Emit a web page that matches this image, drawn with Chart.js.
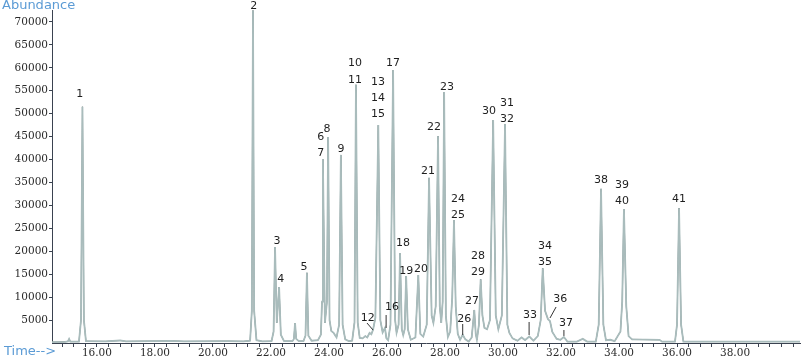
<!DOCTYPE html>
<html>
<head>
<meta charset="utf-8">
<title>Chromatogram</title>
<script src="https://cdn.jsdelivr.net/npm/chart.js@4.4.1/dist/chart.umd.min.js"></script>
<style>
  html, body { margin: 0; padding: 0; background: #fff; }
  #chrom { display: block; }
</style>
</head>
<body>
<canvas id="chrom" width="803" height="358"></canvas>
<script>
// retention time (min) and abundance of the trace
const traceTime = [
  14.45, 14.90, 15.00, 15.04, 15.08, 15.38, 15.45, 15.50, 15.55, 15.62,
  16.30, 16.80, 17.00, 18.60, 19.00, 20.50, 21.05,
  21.28, 21.34, 21.38, 21.42, 21.50, 21.70,
  22.02, 22.09, 22.14, 22.20, 22.28, 22.34, 22.45,
  22.74, 22.79, 22.83, 22.87, 22.96,
  23.12, 23.19, 23.24, 23.29, 23.40,
  23.62, 23.72, 23.76, 23.79, 23.86, 23.93, 23.97, 24.02, 24.08, 24.16,
  24.26, 24.35, 24.41, 24.47, 24.56, 24.68,
  24.80, 24.88, 24.93, 24.99, 25.06,
  25.16, 25.25, 25.32, 25.40, 25.46, 25.52, 25.60, 25.70, 25.77,
  25.85, 25.93, 25.98, 26.04, 26.12, 26.21, 26.28, 26.33,
  26.40, 26.45, 26.51, 26.56, 26.61, 26.66, 26.72, 26.82,
  26.98, 27.08, 27.15, 27.25,
  27.37, 27.45, 27.54, 27.60, 27.68, 27.76, 27.82, 27.87, 27.92, 27.97, 28.03, 28.10,
  28.18, 28.25, 28.31, 28.37, 28.44, 28.52, 28.61, 28.70, 28.82,
  28.92, 29.01, 29.06, 29.10, 29.17, 29.23, 29.29, 29.36, 29.45,
  29.55, 29.66, 29.75, 29.84, 29.96, 30.07, 30.15, 30.22, 30.33,
  30.50, 30.64, 30.76, 30.91, 31.05,
  31.20, 31.30, 31.37, 31.45, 31.55, 31.62, 31.70, 31.85, 31.98, 32.10, 32.22,
  32.55, 32.75, 32.90,
  33.20, 33.30, 33.38, 33.46, 33.55, 33.70, 33.85,
  34.05, 34.11, 34.17, 34.25, 34.33, 34.45, 35.40, 35.48,
  35.93, 36.00, 36.07, 36.14, 36.22, 38.50, 40.24
];
const traceAbund = [
  200, 250, 350, 900, 300, 300, 5000, 51500, 5000, 400,
  350, 550, 350, 450, 350, 400, 350,
  500, 7000, 72500, 7000, 600, 350,
  400, 2500, 20900, 4400, 12200, 1800, 400,
  400, 900, 4350, 900, 400,
  400, 1600, 15300, 1600, 500,
  600, 1800, 9000, 40100, 4400, 9000, 44900, 5000, 2600, 2200,
  1200, 4000, 41000, 4000, 800, 400,
  500, 4500, 56300, 4500, 1100,
  1000, 1500, 1200, 2200, 1900, 2900, 5500, 47500, 5000,
  2300, 3300, 1000, 600, 4000, 59500, 5000, 2200,
  4000, 19600, 3000, 1700, 3000, 14600, 3000, 700,
  1200, 14800, 2000, 1400,
  4000, 36000, 6000, 4400, 8000, 45100, 8000, 4400, 9000, 54700, 6000, 1300,
  2500, 10000, 26800, 8000, 2000, 700, 1800, 800, 300,
  1200, 7200, 2000, 700, 4000, 13900, 6000, 3300, 3000,
  5000, 48600, 6000, 3000, 6000, 47750, 4000, 2200, 1000,
  500, 1200, 650, 1400, 500,
  1500, 5000, 16300, 7000, 5200, 4800, 2400, 900, 700, 1300, 300,
  300, 900, 300,
  300, 4000, 33600, 4000, 600, 700, 400,
  2500, 9000, 29200, 8000, 1500, 800, 700, 300,
  300, 4000, 29400, 4000, 300, 300, 300
];

// peak numbers and where their labels sit (time, abundance)
const peakLabels = ['1','2','3','4','5','6','7','8','9','10','11','12','13','14','15','16','17','18','19','20',
  '21','22','23','24','25','26','27','28','29','30','31','32','33','34','35','36','37','38','39','40','41'];
const labelTime = [15.41, 21.41, 22.21, 22.34, 23.14, 23.72, 23.72, 23.93, 24.41, 24.90, 24.90, 25.34, 25.69, 25.69, 25.69,
  26.17, 26.21, 26.55, 26.66, 27.17, 27.41, 27.62, 28.07, 28.45, 28.45, 28.66, 28.93, 29.14, 29.14, 29.52,
  30.14, 30.14, 30.93, 31.45, 31.45, 31.97, 32.17, 33.38, 34.10, 34.10, 36.07];
const labelAbund = [54300, 73470, 22240, 13950, 16570, 44910, 41420, 46650, 42290, 61040, 57330, 5450, 56900, 53410, 49920,
  7850, 61040, 21800, 15700, 16130, 37500, 47090, 55810, 31390, 27900, 5230, 9160, 18970, 15480, 50580,
  52320, 48830, 6100, 21150, 17660, 9590, 4360, 35530, 34440, 30960, 31390];

// leader lines from small labels to their peaks: [t1, a1, t2, a2]
const leaders = [
  [25.31, 4360, 25.52, 2830],
  [25.97, 6100, 25.97, 3270],
  [28.61, 4140, 28.61, 1740],
  [30.90, 4580, 30.90, 1740],
  [31.83, 7850, 31.62, 5450],
  [32.10, 2830, 32.10, 1530]
];

const xTickLabels = ['16.00','18.00','20.00','22.00','24.00','26.00','28.00','30.00','32.00','34.00','36.00','38.00'];
const yTickValues = [5000, 10000, 15000, 20000, 25000, 30000, 35000, 40000, 45000, 50000, 55000, 60000, 65000, 70000];

const points = traceTime.map((t, i) => ({ x: t, y: traceAbund[i] }));

const labelPlugin = {
  id: 'peakLabels',
  afterDatasetsDraw(chart) {
    const { ctx, scales: { x, y } } = chart;
    ctx.save();
    ctx.font = '11px "DejaVu Sans"';
    ctx.fillStyle = '#1e1e1e';
    ctx.textAlign = 'center';
    ctx.textBaseline = 'middle';
    peakLabels.forEach((txt, i) => {
      ctx.fillText(txt, x.getPixelForValue(labelTime[i]), y.getPixelForValue(labelAbund[i]));
    });
    ctx.strokeStyle = '#333';
    ctx.lineWidth = 1;
    leaders.forEach(l => {
      ctx.beginPath();
      ctx.moveTo(x.getPixelForValue(l[0]), y.getPixelForValue(l[1]));
      ctx.lineTo(x.getPixelForValue(l[2]), y.getPixelForValue(l[3]));
      ctx.stroke();
    });
    ctx.restore();
  },
  afterDraw(chart) {
    const ctx = chart.ctx;
    ctx.save();
    ctx.font = '13px "DejaVu Sans"';
    ctx.fillStyle = '#5b9bd5';
    ctx.textBaseline = 'middle';
    ctx.textAlign = 'left';
    ctx.fillText('Abundance', 2, 6);
    ctx.fillText('Time-->', 4, 352);
    ctx.restore();
  }
};

new Chart(document.getElementById('chrom'), {
  type: 'line',
  data: {
    datasets: [
      {
        data: points,
        borderColor: '#a9bcbc',
        borderWidth: 1.8,
        pointRadius: 0,
        tension: 0,
        fill: false
      },
      {
        data: points,
        borderColor: '#4a5757',
        borderWidth: 0.9,
        pointRadius: 0,
        tension: 0,
        fill: false
      }
    ]
  },
  options: {
    responsive: false,
    animation: false,
    devicePixelRatio: 1,
    layout: { padding: { top: 10, right: 3, left: 0, bottom: 0 } },
    plugins: {
      legend: { display: false },
      tooltip: { enabled: false }
    },
    scales: {
      x: {
        type: 'linear',
        min: 14.45,
        max: 40.24,
        afterFit: s => { s.height = 15; },
        afterBuildTicks: s => {
          const ticks = [];
          for (let k = 37; k <= 100; k++) ticks.push({ value: k * 0.4 });
          s.ticks = ticks;
        },
        border: { display: true, color: '#3a4250', width: 1 },
        grid: { drawOnChartArea: false, drawTicks: true, tickLength: 4, color: '#3a4250' },
        ticks: {
          autoSkip: false,
          maxRotation: 0,
          padding: 0,
          color: '#2a2a2a',
          font: { family: 'DejaVu Serif', size: 10.5 },
          callback: v => {
            const lab = xTickLabels.find(s => Math.abs(parseFloat(s) - v) < 1e-6);
            return lab || '';
          }
        }
      },
      y: {
        min: 0,
        max: 72600,
        afterFit: s => { s.width = 52; },
        afterBuildTicks: s => { s.ticks = yTickValues.map(v => ({ value: v })); },
        border: { display: true, color: '#3a4250', width: 1 },
        grid: { drawOnChartArea: false, drawTicks: true, tickLength: 3, color: '#3a4250' },
        ticks: {
          padding: 1,
          color: '#2a2a2a',
          font: { family: 'DejaVu Serif', size: 10.5 },
          callback: v => String(v)
        }
      }
    }
  },
  plugins: [labelPlugin]
});
</script>
</body>
</html>
